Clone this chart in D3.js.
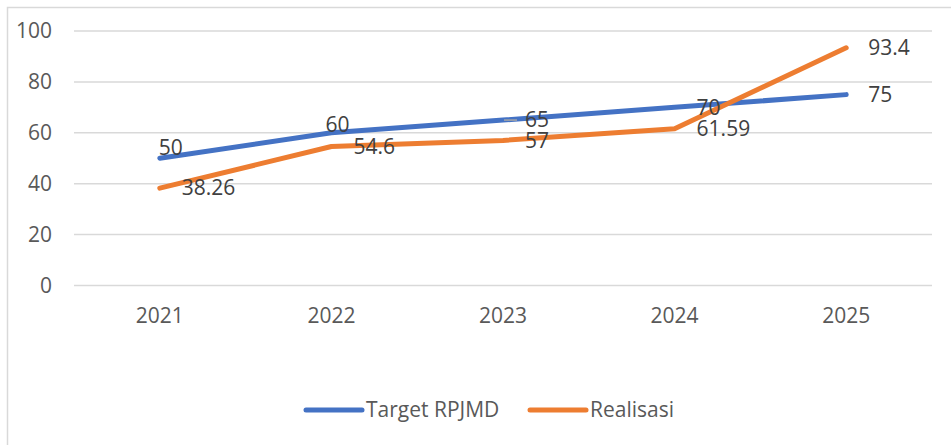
<!DOCTYPE html>
<html>
<head>
<meta charset="utf-8">
<script src="https://cdn.jsdelivr.net/npm/d3@7"></script>
<style>
  body { margin: 0; background: #fff; }
  svg { display: block; font-family: "Open Sans", "Liberation Sans", sans-serif; }
</style>
</head>
<body>
<svg width="951" height="445"></svg>
<script>
const years = ['2021', '2022', '2023', '2024', '2025'];
const target = [50, 60, 65, 70, 75];
const realisasi = [38.26, 54.6, 57, 61.59, 93.4];
const targetLabels = ['50', '60', '65', '70', '75'];
const realisasiLabels = ['38.26', '54.6', '57', '61.59', '93.4'];
const yTicks = [0, 20, 40, 60, 80, 100];

const series = [
    {name: 'Target RPJMD', values: target, labels: targetLabels, color: '#4472C4'},
    {name: 'Realisasi', values: realisasi, labels: realisasiLabels, color: '#ED7D31'}
];

const fs = 21;
const svg = d3.select('svg');

// chart frame (runs off the right/bottom edge like the screenshot)
svg.append('rect')
    .attr('x', 7.5).attr('y', 7.5)
    .attr('width', 980).attr('height', 480)
    .attr('fill', 'none')
    .attr('stroke', '#d9d9d9')
    .attr('stroke-width', 1.5);

const x = d3.scaleBand().domain(years).range([74, 932]);
const y = d3.scaleLinear().domain([0, 100]).range([285.5, 31]);

// gridlines
svg.append('g')
    .selectAll('line')
    .data(yTicks)
    .join('line')
    .attr('x1', 74).attr('x2', 932)
    .attr('y1', d => y(d)).attr('y2', d => y(d))
    .attr('stroke', '#d9d9d9')
    .attr('stroke-width', 1.5);

// y axis labels
const yAxis = d3.axisLeft(y).tickValues(yTicks).tickSize(0).tickPadding(0);
svg.append('g')
    .attr('transform', 'translate(52,0)')
    .call(yAxis)
    .call(g => g.select('.domain').remove())
    .selectAll('text')
    .attr('font-size', fs)
    .attr('font-family', '"Open Sans", "Liberation Sans", sans-serif')
    .attr('fill', '#595959');

// x axis labels
const xAxis = d3.axisBottom(x).tickSize(0).tickPadding(0);
svg.append('g')
    .attr('transform', 'translate(0,308)')
    .call(xAxis)
    .call(g => g.select('.domain').remove())
    .selectAll('text')
    .attr('font-size', fs)
    .attr('font-family', '"Open Sans", "Liberation Sans", sans-serif')
    .attr('fill', '#595959');

const cx = d => x(d) + x.bandwidth() / 2;
const line = d3.line()
    .x((d, i) => cx(years[i]))
    .y(d => y(d));

series.forEach(s => {
    svg.append('path')
        .datum(s.values)
        .attr('d', line)
        .attr('fill', 'none')
        .attr('stroke', s.color)
        .attr('stroke-width', 5)
        .attr('stroke-linecap', 'round')
        .attr('stroke-linejoin', 'round');
});

// data labels: Excel "right" position, with two hand-moved ones
const moved = {'0-0': [-1, -11], '0-1': [-6, -8]};
series.forEach((s, si) => {
    svg.append('g')
        .selectAll('text')
        .data(s.values)
        .join('text')
        .attr('x', (d, i) => cx(years[i]) + (moved[si + '-' + i] ? moved[si + '-' + i][0] : 22))
        .attr('y', (d, i) => y(d) + (moved[si + '-' + i] ? moved[si + '-' + i][1] : 0))
        .attr('dy', '0.35em')
        .attr('font-size', fs)
        .attr('fill', '#404040')
        .text((d, i) => s.labels[i]);
});

// small leader tick next to the 65 label
svg.append('line')
    .attr('x1', cx(years[2]) + 1).attr('x2', cx(years[2]) + 14)
    .attr('y1', y(target[2])).attr('y2', y(target[2]))
    .attr('stroke', '#a6a6a6')
    .attr('stroke-width', 1.5);

// legend
const legendX = [306, 530];
const lg = svg.append('g')
    .selectAll('g')
    .data(series)
    .join('g')
    .attr('transform', (d, i) => `translate(${legendX[i]},410)`);
lg.append('line')
    .attr('x1', 0).attr('x2', 56)
    .attr('stroke', d => d.color)
    .attr('stroke-width', 5)
    .attr('stroke-linecap', 'round');
lg.append('text')
    .attr('x', 60)
    .attr('dy', '0.35em')
    .attr('font-size', fs)
    .attr('fill', '#595959')
    .text(d => d.name);
</script>
</body>
</html>
